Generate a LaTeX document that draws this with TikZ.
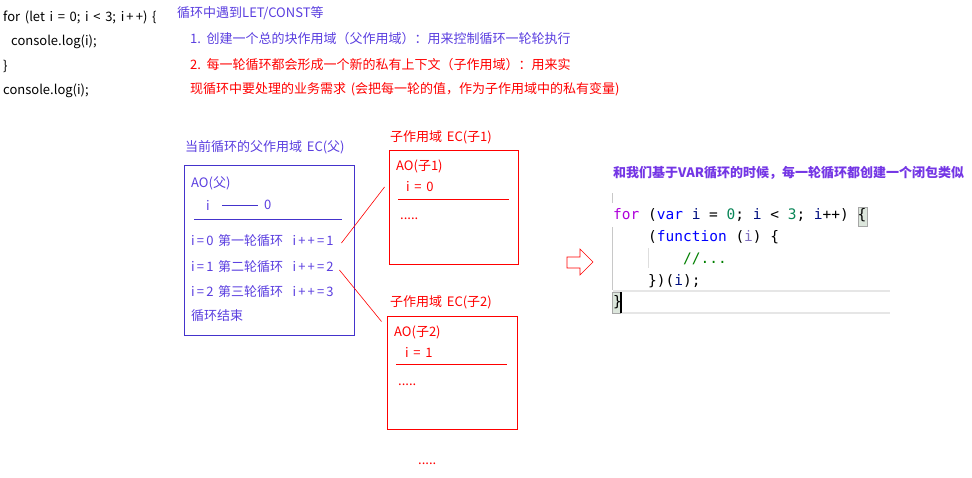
\documentclass[tikz,border=0pt]{standalone}
\usepackage{fontspec}
\setmainfont{Noto Sans CJK SC}[WordSpace=1.6]
\newfontfamily\codefont{DejaVu Sans Mono}
\usetikzlibrary{positioning}
\definecolor{cpurple}{HTML}{5B3FE0}
\definecolor{cframe}{HTML}{4433CC}
\definecolor{cred}{HTML}{FF0000}
\definecolor{ckey}{HTML}{AF00DB}
\definecolor{cvar}{HTML}{0000FF}
\definecolor{cid}{HTML}{001080}
\definecolor{cnum}{HTML}{098658}
\definecolor{ccom}{HTML}{008000}
\definecolor{cparam}{HTML}{7F6FBF}
\definecolor{cguide}{HTML}{C8C8C8}
\definecolor{cline}{HTML}{E6E6E6}
\definecolor{cmatch}{HTML}{DCE6DC}
\tikzset{
  every picture/.style={x=1pt, y=-1pt},
  txt/.style={anchor=west, inner sep=0pt, font=\fontsize{13}{15}\selectfont},
  blue txt/.style={txt, text=cpurple},
  red txt/.style={txt, text=cred},
  code/.style={anchor=west, inner sep=0pt, font=\codefont\fontsize{14.5}{16}\selectfont},
  frame/.style={draw=#1, line width=0.9pt, inner sep=0pt},
  link/.style={draw=cred, line width=0.6pt},
}
\begin{document}
\begin{tikzpicture}
  \useasboundingbox[fill=white] (0,0) rectangle (972,477);
  % top left: the loop
  \node[txt] (l1) at (3,17) {for (let i = 0; i < 3; i\,+\,+) \{};
  \node[txt] (l2) at (11,42) {console.log(i);};
  \node[txt] (l3) at (3,66) {\}};
  \node[txt] (l4) at (3,91) {console.log(i);};
  % notes
  \node[blue txt] (head) at (177,13) {循环中遇到LET/CONST等};
  \node[blue txt] (st1) at (190,39) {1. 创建一个总的块作用域（父作用域）：用来控制循环一轮轮执行};
  \node[red txt] (st2) at (190,65) {2. 每一轮循环都会形成一个新的私有上下文（子作用域）：用来实};
  \node[red txt] (st3) at (190,89) {现循环中要处理的业务需求 (会把每一轮的值，作为子作用域中的私有变量)};
  % parent EC
  \node[blue txt] (parlab) at (185,147) {当前循环的父作用域 EC(父)};
  \node[frame=cframe, minimum width=170, minimum height=170] (par) at (269,250) {};
  \node[blue txt] (aop) at (191,183) {AO(父)};
  \node[blue txt] (ip) at (206,205) {i};
  \node[blue txt] (zp) at (264,205) {0};
  \draw[cframe, line width=0.8pt] (222,205) -- (258,205);
  \draw[cframe, line width=0.8pt] (194,219) -- (342,219);
  \node[blue txt] (rnd1) at (191,241) {i\,=\,0 第一轮循环\ \ i\,+\,+\,=\,1};
  \node[blue txt] (rnd2) at (191,267) {i\,=\,1 第二轮循环\ \ i\,+\,+\,=\,2};
  \node[blue txt] (rnd3) at (191,292) {i\,=\,2 第三轮循环\ \ i\,+\,+\,=\,3};
  \node[blue txt] (done) at (191,316) {循环结束};
  % child EC 1
  \node[red txt] (ch1lab) at (390,137) {子作用域 EC(子1)};
  \node[frame=cred, minimum width=129, minimum height=114] (ch1) at (453.5,207) {};
  \node[red txt] (ao1) at (396,166) {AO(子1)};
  \node[red txt] (val1) at (406,187) {i = 0};
  \draw[cred, line width=0.8pt] (398,199) -- (509,199);
  \node[red txt] (dot1) at (400,219) {.....};
  % child EC 2
  \node[red txt] (ch2lab) at (390,302) {子作用域 EC(子2)};
  \node[frame=cred, minimum width=130, minimum height=113] (ch2) at (452,372.5) {};
  \node[red txt] (ao2) at (394,332) {AO(子2)};
  \node[red txt] (val2) at (405,352) {i = 1};
  \draw[cred, line width=0.8pt] (396,364) -- (507,364);
  \node[red txt] (dot2) at (398,385) {.....};
  \node[red txt] (more) at (418,464) {.....};
  \draw[link] ([xshift=-13pt, yshift=-2pt]par.east |- rnd1) -- ([xshift=-4pt]ch1.west |- val1);
  \draw[link] ([xshift=-15pt, yshift=-3pt]par.east |- rnd2) -- ([xshift=-5pt, yshift=-6pt]ch2.north west);
  % hollow arrow
  \draw[cred, line width=0.6pt] (567,257) -- (580,257) -- (580,249) -- (593,262)
    -- (580,275) -- (580,268) -- (567,268) -- cycle;
  % the var version
  \node[txt, text=cpurple!85!magenta, font=\fontsize{13}{15}\selectfont\bfseries] (varhead) at (613,173)
    {和我们基于VAR循环的时候，每一轮循环都创建一个闭包类似};
  \fill[cline] (613,290) rectangle (890,292);
  \fill[cline] (613,312) rectangle (890,314);
  \draw[cguide, line width=1pt] (612.5,193) -- (612.5,203);
  \draw[cguide, line width=1pt] (612.5,227) -- (612.5,290);
  \draw[cguide!60, line width=0.8pt] (648,248) -- (648,268);
  \filldraw[fill=cmatch, draw=gray!70, line width=0.6pt] (858,207) rectangle (867,226);
  \filldraw[fill=cmatch, draw=gray!70, line width=0.6pt] (612,292) rectangle (620,313);
  \node[code] (c1) at (613,215) {\textcolor{ckey}{for} (\textcolor{cvar}{var} \textcolor{cid}{i} = \textcolor{cnum}{0}; \textcolor{cid}{i} < \textcolor{cnum}{3}; \textcolor{cid}{i}++) \{};
  \node[code] (c2) at (648,237) {(\textcolor{cvar}{function} (\textcolor{cparam}{i}) \{};
  \node[code] (c3) at (683,259) {\textcolor{ccom}{//...}};
  \node[code] (c4) at (648,281) {\})(\textcolor{cid}{i});};
  \node[code] (c5) at (613,302) {\}};
  \fill[black] (619.5,292) rectangle (621.5,313);
\end{tikzpicture}
\end{document}
